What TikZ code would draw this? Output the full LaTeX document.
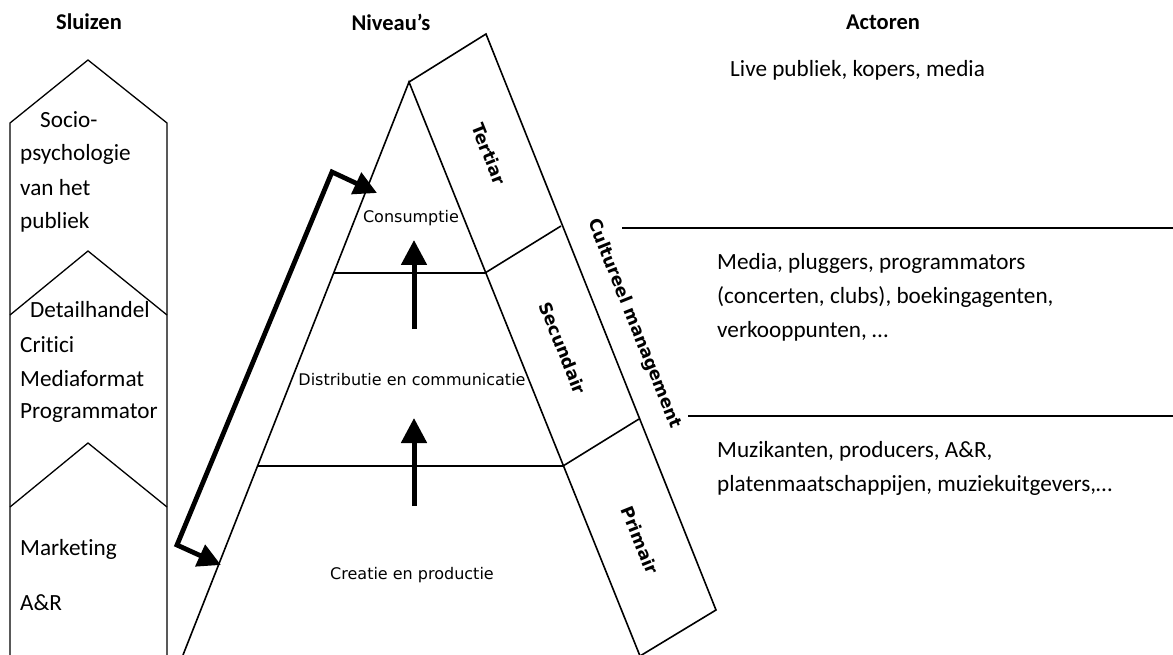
\documentclass[tikz,border=0pt]{standalone}
\usepackage{fontspec}
\setmainfont[Ligatures={CommonOff}]{Carlito}
\newfontfamily\verd{DejaVu Sans}
\usetikzlibrary{arrows.meta}
\begin{document}
\begin{tikzpicture}[x=1pt,y=-1pt,
  thin line/.style={draw, line width=1.3pt, line join=miter},
  pyr line/.style={draw, line width=1.6pt, line join=miter},
  coltext/.style={font=\fontsize{23.2}{27}\selectfont, anchor=west, inner sep=0pt},
  header/.style={font=\fontsize{22.5}{27}\selectfont\bfseries, inner sep=0pt},
  pyrtext/.style={font=\verd\fontsize{16}{19}\selectfont, inner sep=0pt},
  level/.style={font=\verd\bfseries\fontsize{17.3}{20}\selectfont, rotate=-68.2, inner sep=0pt},
  bigarrow/.style={line width=5pt, -{Triangle[length=25pt,width=25pt]}},
  bentarrow/.style={line width=4.8pt, line join=miter, {Triangle[length=23pt,width=23pt]}-{Triangle[length=23pt,width=23pt]}}
]
\useasboundingbox (0,0) rectangle (1173,655);

% headers
\node[header] (hS) at (89,22) {Sluizen};
\node[header] (hN) at (391,22) {Niveau’s};
\node[header] (hA) at (883,22) {Actoren};

% left column (sluizen)
\coordinate (c1a) at (10,655);
\coordinate (c1b) at (10,123);
\coordinate (c1c) at (88,60);
\coordinate (c1d) at (167,123);
\coordinate (c1e) at (167,655);
\draw[thin line] (c1a) -- (c1b) -- (c1c) -- (c1d) -- (c1e);
\coordinate (c2l) at (10,315);
\coordinate (c2t) at (88,251);
\coordinate (c2r) at (167,315);
\draw[thin line] (c2l) -- (c2t) -- (c2r);
\coordinate (c3l) at (10,507);
\coordinate (c3t) at (88,443);
\coordinate (c3r) at (167,507);
\draw[thin line] (c3l) -- (c3t) -- (c3r);

\node[coltext] (s1) at (40,120) {Socio-};
\node[coltext] (s2) at (20,154) {psychologie};
\node[coltext] (s3) at (20,188) {van het};
\node[coltext] (s4) at (20,222) {publiek};
\node[coltext] (s5) at (30,310) {Detailhandel};
\node[coltext] (s6) at (20,345) {Critici};
\node[coltext] (s7) at (20,379) {Mediaformat};
\node[coltext] (s8) at (20,413) {Programmator};
\node[coltext] (s9) at (20,549) {Marketing};
\node[coltext] (s10) at (20,603) {A\&R};

% pyramid
\coordinate (apex) at (409,82);
\coordinate (bl) at (183,655);
\coordinate (br) at (640,656);
\coordinate (h1l) at (334,273);
\coordinate (h1r) at (485,273);
\coordinate (h2l) at (257,466);
\coordinate (h2r) at (563,466);
\draw[pyr line] (bl) -- (apex) -- (br);
\draw[pyr line] (h1l) -- (h1r);
\draw[pyr line] (h2l) -- (h2r);

% band
\coordinate (o1) at (486,34);
\coordinate (o2) at (561,226);
\coordinate (o3) at (639,419);
\coordinate (o4) at (716,610);
\draw[pyr line] (apex) -- (o1) -- (o4) -- (br);
\draw[pyr line] (h1r) -- (o2);
\draw[pyr line] (h2r) -- (o3);

\node[level] (tert) at (489,154) {Tertiar};
\node[level] (sec) at (563,348) {Secundair};
\node[level] (prim) at (640,540) {Primair};
\node[level] (cm) at (634,324) {Cultureel management};

\node[pyrtext] (cons) at (411,218) {Consumptie};
\node[pyrtext] (dist) at (412,380) {Distributie en communicatie};
\node[pyrtext] (crea) at (412,575) {Creatie en productie};

% arrows
\coordinate (a1s) at (414,329);
\coordinate (a1e) at (414,240);
\coordinate (a2s) at (414,506);
\coordinate (a2e) at (414,418);
\draw[bigarrow] (a1s) -- (a1e);
\draw[bigarrow] (a2s) -- (a2e);

\coordinate (bt1) at (221,565);
\coordinate (bc1) at (177,545);
\coordinate (bc2) at (332,172);
\coordinate (bt2) at (377,193);
\draw[bentarrow] (bt1) -- (bc1) -- (bc2) -- (bt2);

% actors
\node[coltext] (r1) at (730,70) {Live publiek, kopers, media};
\node[coltext] (r2) at (717,263) {Media, pluggers, programmators};
\node[coltext] (r3) at (717,297) {(concerten, clubs), boekingagenten,};
\node[coltext] (r4) at (717,331) {verkooppunten, …};
\node[coltext] (r5) at (717,451) {Muzikanten, producers, A\&R,};
\node[coltext] (r6) at (717,485) {platenmaatschappijen, muziekuitgevers,…};

\coordinate (l1a) at (622,228);
\coordinate (l1b) at (1173,228);
\coordinate (l2a) at (688,416);
\coordinate (l2b) at (1173,416);
\draw[pyr line] (l1a) -- (l1b);
\draw[pyr line] (l2a) -- (l2b);
\end{tikzpicture}
\end{document}
